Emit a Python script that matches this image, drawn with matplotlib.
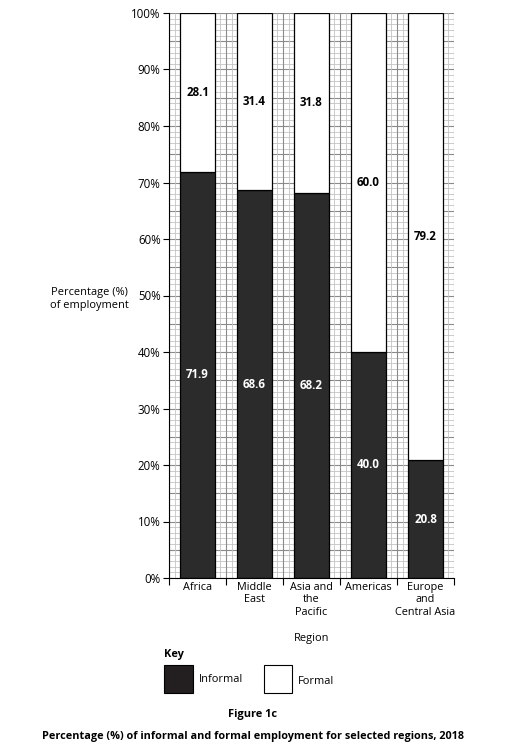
import numpy as np
import matplotlib
matplotlib.use("Agg")
import matplotlib.pyplot as plt
from matplotlib.patches import Rectangle

regions = ["Africa", "Middle\nEast", "Asia and\nthe\nPacific", "Americas", "Europe\nand\nCentral Asia"]
informal = [71.9, 68.6, 68.2, 40.0, 20.8]
formal = [28.1, 31.4, 31.8, 60.0, 79.2]
yticks = [0, 10, 20, 30, 40, 50, 60, 70, 80, 90, 100]

plt.rcParams["font.family"] = ["Open Sans", "DejaVu Sans"]
DARK = "#2b2b2b"

fig = plt.figure(figsize=(5.05, 7.48), dpi=100)
ax = fig.add_axes([169/505, 1-578/748, 285/505, 565/748])

n = len(regions)
xmax = n * 10

# graph paper background
for k in range(0, 101):
    col = "#8a8a8a" if k % 5 == 0 else "#c4c4c4"
    lw = 0.8 if k % 5 == 0 else 0.6
    ax.hlines(k, 0, xmax, colors=col, linewidth=lw, zorder=1)
for k in range(0, xmax + 1):
    col = "#8a8a8a" if k % 5 == 0 else "#c4c4c4"
    lw = 0.8 if k % 5 == 0 else 0.6
    ax.vlines(k, 0, 100, colors=col, linewidth=lw, zorder=1)

centers = np.arange(n) * 10 + 5
ax.bar(centers, informal, width=6.2, color=DARK, edgecolor="black", linewidth=0.9, zorder=3)
ax.bar(centers, formal, width=6.2, bottom=informal, color="white", edgecolor="black", linewidth=0.9, zorder=3)

for c, i, f in zip(centers, informal, formal):
    ax.text(c, i / 2, f"{i:.1f}", color="white", ha="center", va="center",
            fontsize=8.3, fontweight="bold", zorder=4)
    ax.text(c, i + f / 2, f"{f:.1f}", color="black", ha="center", va="center",
            fontsize=8.3, fontweight="bold", zorder=4)

ax.set_xlim(0, xmax)
ax.set_ylim(0, 100)
ax.set_yticks(yticks)
ax.set_yticklabels([f"{t}%" for t in yticks], fontsize=8.3)
ax.set_xticks(np.arange(0, xmax + 1, 10))
ax.set_xticklabels([])
ax.set_xticks(centers, minor=True)
ax.set_xticklabels(regions, minor=True, fontsize=7.8, va="top", linespacing=1.15)
ax.tick_params(axis="x", which="minor", length=0, pad=3)
ax.tick_params(axis="x", which="major", length=5, width=0.8, direction="out")
ax.tick_params(axis="y", length=4, width=0.8, pad=2)
for s in ["top", "right"]:
    ax.spines[s].set_visible(False)
ax.spines["left"].set_linewidth(0.8)
ax.spines["bottom"].set_linewidth(0.8)
ax.spines["left"].set_zorder(5)
ax.spines["bottom"].set_zorder(5)

fig.text(89/505, 1-299/748, "Percentage (%)\nof employment", ha="center", va="center",
         fontsize=7.9, linespacing=1.2)
fig.text(312/505, 1-638/748, "Region", ha="center", va="center", fontsize=7.9)

# key
fig.text(164/505, 1-655/748, "Key", ha="left", va="center", fontsize=7.9, fontweight="bold")
fig.patches.append(Rectangle((164/505, 1-693/748), 29/505, 28/748, transform=fig.transFigure,
                             facecolor="#231f20", edgecolor="black", linewidth=0.8))
fig.text(199/505, 1-680/748, "Informal", ha="left", va="center", fontsize=7.9)
fig.patches.append(Rectangle((264/505, 1-693/748), 28/505, 28/748, transform=fig.transFigure,
                             facecolor="white", edgecolor="black", linewidth=0.8))
fig.text(298/505, 1-681/748, "Formal", ha="left", va="center", fontsize=7.9)

fig.text(252/505, 1-715/748, "Figure 1c", ha="center", va="center", fontsize=7.9, fontweight="bold")
fig.text(253/505, 1-737/748, "Percentage (%) of informal and formal employment for selected regions, 2018",
         ha="center", va="center", fontsize=7.8, fontweight="bold")

fig.savefig("out.png", dpi=100)
